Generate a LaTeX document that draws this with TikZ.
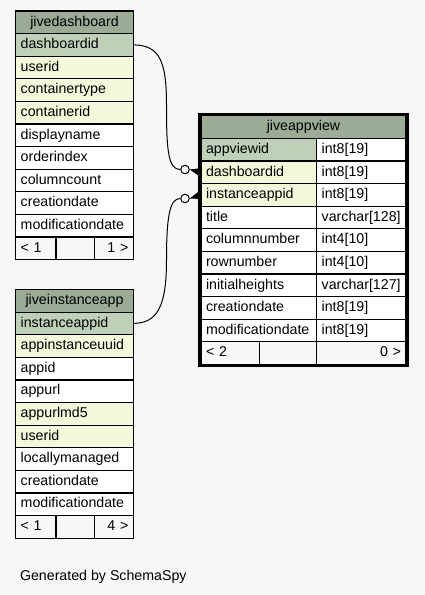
\documentclass[tikz,border=0pt]{standalone}
\usepackage{fontspec}
\setmainfont{Liberation Sans}
\usetikzlibrary{positioning,fit}

\definecolor{headgreen}{HTML}{9BAB96}
\definecolor{keygreen}{HTML}{BED1B8}
\definecolor{idxyellow}{HTML}{F4F7DA}
\definecolor{pagegray}{HTML}{F7F7F7}

\tikzset{
 cell/.style={draw, rectangle, line width=1.2pt, inner ysep=0pt, inner xsep=5pt, outer sep=0pt,
   minimum height=22.6pt, text height=10.5pt, text depth=3pt, align=left, fill=white,
   font=\fontsize{14.2}{16}\selectfont},
 dwide/.style={cell, text width=107.6pt},
 vname/.style={cell, text width=105.7pt},
 vtype/.style={cell, text width=79.3pt},
 headcell/.style={fill=headgreen, align=center},
 foot/.style={cell, fill=pagegray},
 odot/.style={circle, draw, fill=white, line width=1pt, inner sep=0pt, minimum size=8.5pt},
 link/.style={line width=1pt}
}

\begin{document}
\begin{tikzpicture}[x=1pt, y=-1pt]

 \fill[pagegray] (0,0) rectangle (425,595);
 \useasboundingbox (0,0) rectangle (425,595);

 %%%  nodes

 % jivedashboard
 \node[dwide, headcell, anchor=north west] (dhead) at (15.7,11) {jivedashboard};
 \node[dwide, fill=keygreen, below=0pt of dhead] (ddashboardid) {dashboardid};
 \node[dwide, fill=idxyellow, below=0pt of ddashboardid] (duserid) {userid};
 \node[dwide, fill=idxyellow, below=0pt of duserid] (dcontainertype) {containertype};
 \node[dwide, fill=idxyellow, below=0pt of dcontainertype] (dcontainerid) {containerid};
 \node[dwide, below=0pt of dcontainerid] (ddisplayname) {displayname};
 \node[dwide, below=0pt of ddisplayname] (dorderindex) {orderindex};
 \node[dwide, below=0pt of dorderindex] (dcolumncount) {columncount};
 \node[dwide, below=0pt of dcolumncount] (dcreationdate) {creationdate};
 \node[dwide, below=0pt of dcreationdate] (dmodificationdate) {modificationdate};
 \node[foot, text width=30.3pt, anchor=north west] (dfoot1) at (dmodificationdate.south west) {< 1};
 \node[foot, text width=28.7pt, right=0pt of dfoot1] (dfoot2) {};
 \node[foot, text width=28.6pt, align=right, right=0pt of dfoot2] (dfoot3) {1 >};

 % jiveinstanceapp
 \node[dwide, headcell, anchor=north west] (ihead) at (15.7,289.5) {jiveinstanceapp};
 \node[dwide, fill=keygreen, below=0pt of ihead] (iinstanceappid) {instanceappid};
 \node[dwide, fill=idxyellow, below=0pt of iinstanceappid] (iappinstanceuuid) {appinstanceuuid};
 \node[dwide, below=0pt of iappinstanceuuid] (iappid) {appid};
 \node[dwide, below=0pt of iappid] (iappurl) {appurl};
 \node[dwide, fill=idxyellow, below=0pt of iappurl] (iappurlmd5) {appurlmd5};
 \node[dwide, fill=idxyellow, below=0pt of iappurlmd5] (iuserid) {userid};
 \node[dwide, below=0pt of iuserid] (ilocallymanaged) {locallymanaged};
 \node[dwide, below=0pt of ilocallymanaged] (icreationdate) {creationdate};
 \node[dwide, below=0pt of icreationdate] (imodificationdate) {modificationdate};
 \node[foot, text width=30.3pt, anchor=north west] (ifoot1) at (imodificationdate.south west) {< 1};
 \node[foot, text width=28.7pt, right=0pt of ifoot1] (ifoot2) {};
 \node[foot, text width=28.6pt, align=right, right=0pt of ifoot2] (ifoot3) {4 >};

 % jiveappview
 \node[cell, headcell, text width=195pt, anchor=north west] (vhead) at (201,115.8) {jiveappview};
 \node[vname, fill=keygreen, anchor=north west] (vappviewid) at (vhead.south west) {appviewid};
 \node[vname, fill=idxyellow, below=0pt of vappviewid] (vdashboardid) {dashboardid};
 \node[vname, fill=idxyellow, below=0pt of vdashboardid] (vinstanceappid) {instanceappid};
 \node[vname, below=0pt of vinstanceappid] (vtitle) {title};
 \node[vname, below=0pt of vtitle] (vcolumnnumber) {columnnumber};
 \node[vname, below=0pt of vcolumnnumber] (vrownumber) {rownumber};
 \node[vname, below=0pt of vrownumber] (vinitialheights) {initialheights};
 \node[vname, below=0pt of vinitialheights] (vcreationdate) {creationdate};
 \node[vname, below=0pt of vcreationdate] (vmodificationdate) {modificationdate};
 \node[vtype, right=0pt of vappviewid] (tappviewid) {int8[19]};
 \node[vtype, right=0pt of vdashboardid] (tdashboardid) {int8[19]};
 \node[vtype, right=0pt of vinstanceappid] (tinstanceappid) {int8[19]};
 \node[vtype, right=0pt of vtitle] (ttitle) {varchar[128]};
 \node[vtype, right=0pt of vcolumnnumber] (tcolumnnumber) {int4[10]};
 \node[vtype, right=0pt of vrownumber] (trownumber) {int4[10]};
 \node[vtype, right=0pt of vinitialheights] (tinitialheights) {varchar[127]};
 \node[vtype, right=0pt of vcreationdate] (tcreationdate) {int8[19]};
 \node[vtype, right=0pt of vmodificationdate] (tmodificationdate) {int8[19]};
 \node[foot, text width=48.3pt, anchor=north west] (vfoot1) at (vmodificationdate.south west) {< 2};
 \node[foot, text width=47.4pt, right=0pt of vfoot1] (vfoot2) {};
 \node[foot, text width=79.3pt, align=right, right=0pt of vfoot2] (vfoot3) {0 >};
 \node[draw, line width=2.7pt, inner sep=1.35pt, fit=(vhead)(vfoot1)(vfoot3)] (vframe) {};

 % relations
 \node[odot] (dot1) at (185,169.5) {};
 \node[odot] (dot2) at (185,198.5) {};

 \draw[link] (ddashboardid.east) .. controls (160,44.9) and (166.5,62) .. (166.5,105)
   .. controls (166.5,150) and (168,169.5) .. (dot1.west);
 \draw[link] (iinstanceappid.east) .. controls (158,323.4) and (166.5,305) .. (166.5,260)
   .. controls (166.5,215) and (170,198.5) .. (dot2.west);

 \fill (dot1.east) -- ([shift={(-1.5pt,4pt)}]vdashboardid.west) -- ([shift={(-1.5pt,-4pt)}]vdashboardid.west) -- cycle;
 \fill (dot2.east) -- ([shift={(-1.5pt,4pt)}]vinstanceappid.west) -- ([shift={(-1.5pt,-4pt)}]vinstanceappid.west) -- cycle;

 \node[anchor=base west, font=\fontsize{14.2}{16}\selectfont] (credit) at (16.5,580) {Generated by SchemaSpy};

\end{tikzpicture}
\end{document}
